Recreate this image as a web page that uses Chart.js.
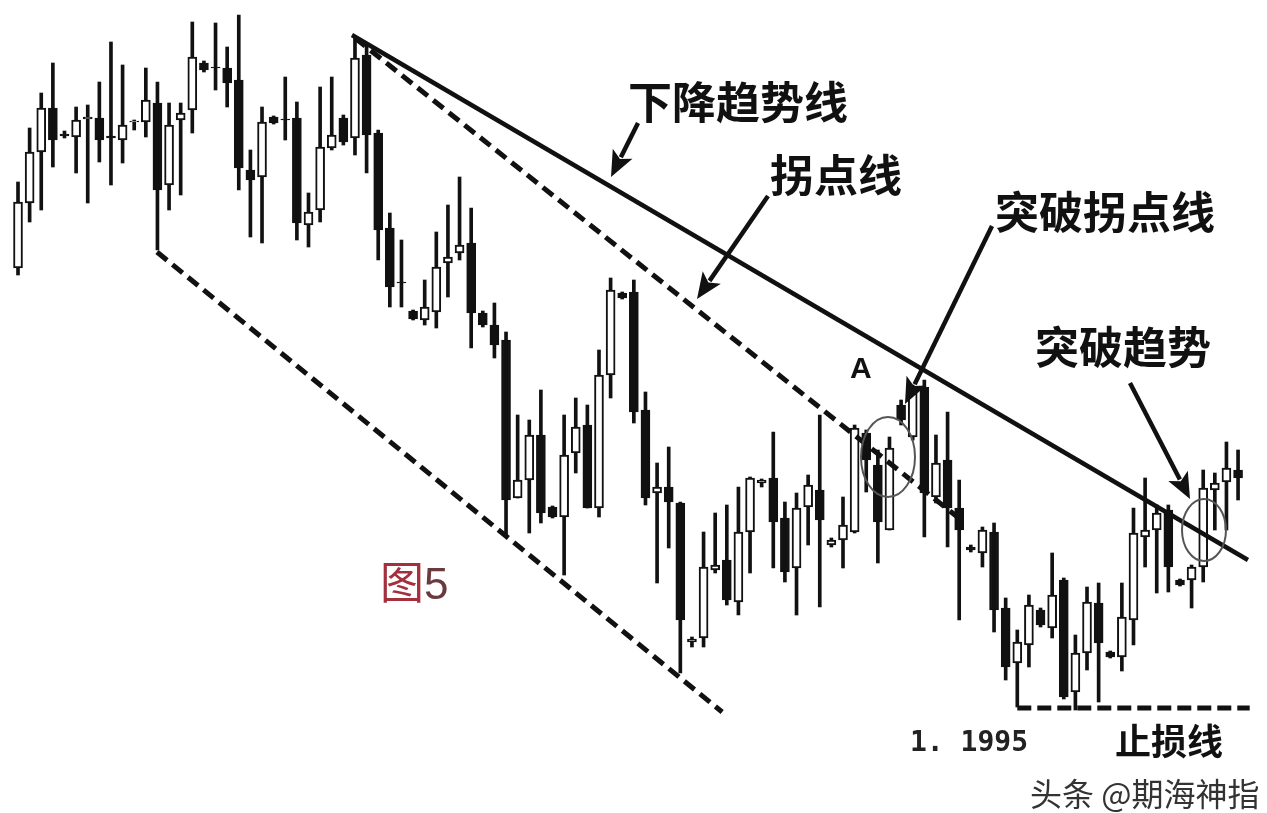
<!DOCTYPE html>
<html lang="zh">
<head>
<meta charset="utf-8">
<title>图5 突破拐点线</title>
<script src="https://cdn.jsdelivr.net/npm/chart.js@4.4.1/dist/chart.umd.min.js"></script>
<style>
  html, body { margin: 0; padding: 0; background: #fff; }
  #wrap { position: relative; width: 1267px; height: 813px; overflow: hidden;
          font-family: "Noto Sans CJK SC", "Noto Sans", sans-serif; }
  #chart { position: absolute; left: 0; top: 0; }
  .lbl { position: absolute; white-space: nowrap; line-height: 1; color: #111; font-weight: 700; }
</style>
</head>
<body>
<div id="wrap">
  <canvas id="chart" width="1267" height="813"></canvas>
  <div class="lbl" style="left:628px;top:78px;font-size:44px">下降趋势线</div>
  <div class="lbl" style="left:770px;top:151px;font-size:44px">拐点线</div>
  <div class="lbl" style="left:995px;top:188px;font-size:44px">突破拐点线</div>
  <div class="lbl" style="left:1035px;top:323px;font-size:44px">突破趋势</div>
  <div class="lbl" style="left:850px;top:353px;font-size:30px;font-family:'Liberation Sans',Arial,sans-serif">A</div>
  <div class="lbl" style="left:380px;top:558px;font-size:44px;font-weight:400"><span style="color:#a3303c">图</span><span style="color:#6a3a3e;font-family:'Liberation Sans',Arial,sans-serif">5</span></div>
  <div class="lbl" style="left:910px;top:728px;font-size:28px;color:#222;font-family:'DejaVu Sans Mono',monospace">1. 1995</div>
  <div class="lbl" style="left:1115px;top:721px;font-size:36px">止损线</div>
  <div class="lbl" style="left:1030px;top:776px;font-size:32px;font-weight:400;color:#333">头条 @期海神指</div>
</div>
<script>
// K线数据（价格单位：点）
const candleOpen = [
  545, 610, 661, 705, 679, 676, 694, 695, 677, 673,
  691, 691, 710, 628, 693, 703, 750, 746, 745, 733,
  643, 636, 696, 694, 695, 588, 603, 665, 695, 675,
  758, 680, 585, 531, 502, 493, 501, 550, 560, 570,
  500, 488, 473, 315, 333, 378, 306, 296, 360, 388,
  305, 438, 520, 521, 403, 320, 326, 310, 171, 175,
  243, 253, 211, 281, 330, 335, 295, 245, 306, 323,
  268, 273, 281, 380, 348, 283, 408, 376, 426, 316,
  353, 305, 266, 260, 281, 205, 150, 168, 203, 185,
  233, 121, 160, 210, 161, 156, 193, 276, 283, 303,
  233, 233, 246, 323, 331, 343
];
const candleHigh = [
  631, 685, 720, 750, 682, 706, 708, 731, 771, 748,
  693, 745, 731, 710, 710, 791, 752, 790, 766, 798,
  663, 706, 697, 736, 711, 620, 726, 736, 698, 776,
  770, 683, 600, 573, 503, 533, 581, 608, 636, 605,
  502, 510, 481, 398, 393, 423, 307, 398, 415, 408,
  463, 535, 521, 533, 421, 350, 366, 311, 176, 281,
  300, 308, 326, 336, 334, 381, 311, 320, 338, 398,
  275, 316, 388, 383, 363, 376, 413, 428, 433, 378,
  401, 333, 268, 286, 290, 215, 183, 218, 205, 260,
  235, 178, 226, 230, 162, 230, 305, 335, 308, 308,
  234, 248, 343, 340, 371, 363
];
const candleLow = [
  538, 591, 603, 646, 675, 640, 610, 651, 628, 650,
  683, 676, 563, 603, 618, 680, 741, 723, 706, 623,
  576, 570, 689, 673, 573, 566, 591, 663, 668, 658,
  640, 553, 506, 506, 493, 488, 485, 516, 553, 465,
  486, 455, 276, 315, 280, 290, 295, 238, 340, 305,
  296, 415, 514, 390, 308, 230, 265, 140, 166, 166,
  240, 208, 198, 240, 326, 245, 231, 198, 268, 206,
  266, 245, 280, 321, 250, 283, 388, 373, 276, 310,
  266, 193, 261, 246, 181, 133, 106, 146, 186, 175,
  114, 103, 143, 111, 155, 142, 168, 246, 220, 221,
  227, 205, 231, 283, 283, 313
];
const candleClose = [
  611, 661, 705, 673, 677, 693, 696, 673, 675, 688,
  692, 713, 623, 688, 700, 756, 743, 745, 730, 645,
  633, 691, 690, 693, 590, 601, 666, 678, 671, 755,
  678, 583, 526, 530, 494, 506, 546, 556, 568, 500,
  488, 468, 313, 333, 378, 300, 296, 358, 386, 305,
  438, 523, 515, 401, 315, 326, 311, 193, 174, 246,
  248, 213, 281, 335, 333, 291, 241, 305, 328, 293,
  273, 288, 385, 353, 291, 365, 393, 420, 320, 350,
  305, 283, 263, 283, 203, 146, 171, 208, 188, 218,
  116, 160, 211, 170, 156, 196, 280, 283, 300, 246,
  228, 246, 325, 330, 345, 335
];

// 画线：端点（K线序号, 价格）
const trendLineX = [28.74, 105.85];   // 下降趋势线
const trendLineY = [778, 253];
const pivotLineX = [29.0, 81.5];      // 拐点线
const pivotLineY = [775, 290];
const channelLineX = [11.96, 60.6];   // 下轨
const channelLineY = [561, 101];
const stopLineX = [86.0, 106.0];      // 止损线 1.1995
const stopLineY = [105, 105];

function toPoints(xs, ys) {
    return xs.map((x, i) => ({ x: x, y: ys[i] }));
}

// 箭头和圆圈（画布像素）
function drawArrow(ctx, x1, y1, x2, y2) {
    const ang = Math.atan2(y2 - y1, x2 - x1);
    const len = 26, half = 11, notch = 6;
    const bx = x2 - len * Math.cos(ang), by = y2 - len * Math.sin(ang);
    ctx.beginPath();
    ctx.moveTo(x1, y1);
    ctx.lineTo(x2 - (len - 4) * Math.cos(ang), y2 - (len - 4) * Math.sin(ang));
    ctx.lineWidth = 4.5;
    ctx.stroke();
    ctx.beginPath();
    ctx.moveTo(x2, y2);
    ctx.lineTo(bx + half * Math.sin(ang), by - half * Math.cos(ang));
    ctx.lineTo(bx + notch * Math.cos(ang), by + notch * Math.sin(ang));
    ctx.lineTo(bx - half * Math.sin(ang), by + half * Math.cos(ang));
    ctx.closePath();
    ctx.fill();
}

const markPlugin = {
    id: 'marks',
    afterDatasetsDraw(chart) {
        const ctx = chart.ctx;
        ctx.save();
        ctx.strokeStyle = '#111';
        ctx.fillStyle = '#111';
        ctx.lineCap = 'butt';
        drawArrow(ctx, 638, 123, 611, 177);
        drawArrow(ctx, 768, 196, 697, 299);
        drawArrow(ctx, 992, 226, 905, 404);
        drawArrow(ctx, 1130, 383, 1190, 499);

        ctx.strokeStyle = '#555';
        ctx.lineWidth = 2;
        ctx.beginPath();
        ctx.ellipse(888, 457, 27, 40, 0, 0, Math.PI * 2);
        ctx.stroke();
        ctx.beginPath();
        ctx.ellipse(1204, 530, 22, 31, 0, 0, Math.PI * 2);
        ctx.stroke();
        ctx.restore();
    }
};

const bodyColors = candleOpen.map((o, i) => candleClose[i] >= o ? '#fff' : '#111');

const lineStyle = {
    type: 'line',
    borderColor: '#111',
    pointRadius: 0,
    fill: false,
    tension: 0,
    order: 0
};

new Chart(document.getElementById('chart').getContext('2d'), {
    type: 'bar',
    data: {
        datasets: [
            Object.assign({}, lineStyle, { label: '下降趋势线', data: toPoints(trendLineX, trendLineY), borderWidth: 4.5 }),
            Object.assign({}, lineStyle, { label: '拐点线', data: toPoints(pivotLineX, pivotLineY), borderWidth: 5, borderDash: [13, 7] }),
            Object.assign({}, lineStyle, { label: '下轨', data: toPoints(channelLineX, channelLineY), borderWidth: 5, borderDash: [13, 7] }),
            Object.assign({}, lineStyle, { label: '止损线', data: toPoints(stopLineX, stopLineY), borderWidth: 5, borderDash: [14, 6] }),
            {
                label: '实体',
                data: candleOpen.map((o, i) => ({ x: i, y: [o, candleClose[i]] })),
                backgroundColor: bodyColors,
                borderColor: '#111',
                borderWidth: 2,
                borderSkipped: false,
                barThickness: 9,
                grouped: false,
                order: 1
            },
            {
                label: '影线',
                data: candleLow.map((l, i) => ({ x: i, y: [l, candleHigh[i]] })),
                backgroundColor: '#111',
                borderWidth: 0,
                barThickness: 3,
                grouped: false,
                order: 2
            }
        ]
    },
    options: {
        responsive: false,
        animation: false,
        events: [],
        layout: { padding: 0 },
        plugins: {
            legend: { display: false },
            tooltip: { enabled: false }
        },
        scales: {
            x: { type: 'linear', min: -1.55, max: 107.49, display: false, offset: false },
            y: { min: 0, max: 813, display: false }
        }
    },
    plugins: [markPlugin]
});
</script>
</body>
</html>
